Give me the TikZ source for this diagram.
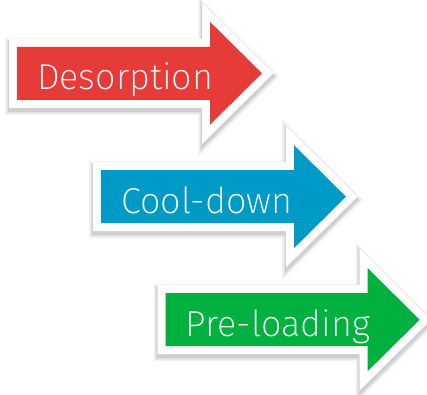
\documentclass[tikz,border=0pt]{standalone}
\usepackage{fontspec}
\newfontfamily\stagefont{Fira Sans ExtraLight}

\definecolor{desorpred}{RGB}{229,59,57}
\definecolor{coolblue}{RGB}{0,154,199}
\definecolor{loadgreen}{RGB}{0,177,64}

% body half-height 26.5, head half-height 51.5, head length 52
\newcommand{\stagepath}[3]{(#1,#2-26.5) -- (#3,#2-26.5) -- (#3,#2-51.5) -- (#3+52,#2)
  -- (#3,#2+51.5) -- (#3,#2+26.5) -- (#1,#2+26.5) -- cycle}

\tikzset{
  rim/.style={draw=white, fill=white, line width=16pt, line join=miter, miter limit=10},
  haze/.style={draw=black, line width=#1, line join=miter, miter limit=10, yshift=-3pt},
  stagetext/.style={text=white, inner sep=0pt, font=\stagefont\fontsize{36}{40}\selectfont}
}

\begin{document}
\begin{tikzpicture}[x=1pt, y=-1pt]
            \useasboundingbox (0,0) rectangle (427,394);

            \foreach \L/\C/\B/\col/\txt/\nm in {17/73.3/210/desorpred/Desorption/desorption,
                101/196.7/294/coolblue/Cool-down/cooldown,
                165.7/319.7/367.7/loadgreen/Pre-loading/preloading}{
              % soft shadow under the white rim
              \foreach \w/\o in {24/0.05, 21/0.07, 18/0.08}
                \draw[haze=\w pt, opacity=\o] \stagepath{\L}{\C}{\B};
              \draw[rim] \stagepath{\L}{\C}{\B};
              \fill[\col] \stagepath{\L}{\C}{\B};
              \node[stagetext, anchor=base west] (\nm) at (\L+20,\C+16.5) {\txt};
            }
        \end{tikzpicture}
\end{document}
